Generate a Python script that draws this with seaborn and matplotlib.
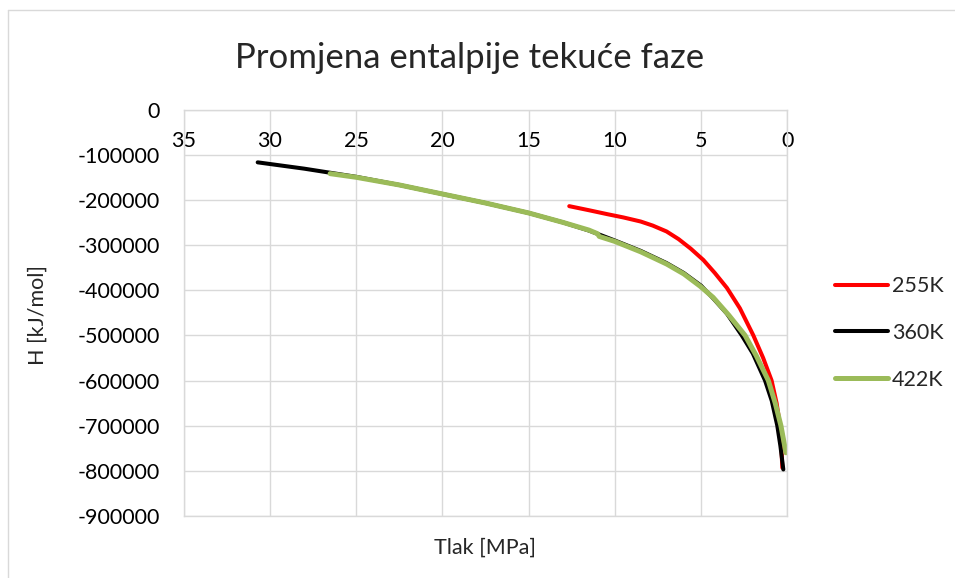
import matplotlib
matplotlib.use("Agg")
import matplotlib.pyplot as plt
import seaborn as sns
import pandas as pd
from matplotlib.lines import Line2D

# ---- data (pressure in MPa, enthalpy H) ----
p_255 = [12.64, 11.5, 10.4, 9.5, 8.5, 7.8, 7.0, 6.3, 5.6, 4.87, 4.2, 3.5, 2.75, 1.97,
         1.4, 0.91, 0.62, 0.42, 0.34, 0.29]
h_255 = [-214000, -223000, -232000, -239000, -248000, -257000, -270000, -287000, -308000,
         -333000, -362000, -395000, -440000, -500000, -550000, -600000, -650000, -700000,
         -750000, -793000]

p_360 = [30.7, 28.0, 26.5, 25.0, 22.5, 20.0, 17.5, 15.0, 13.0, 11.5, 10.0, 8.5, 7.0, 6.0,
         5.0, 4.3, 3.5, 2.64, 2.0, 1.29, 0.9, 0.58, 0.4, 0.23]
h_360 = [-117000, -131000, -140000, -149000, -167000, -187000, -207000, -229000, -250000,
         -268000, -290000, -313000, -340000, -362000, -390000, -418000, -452000, -500000,
         -540000, -600000, -645000, -700000, -745000, -797000]

p_422 = [26.5, 25.0, 22.5, 20.0, 17.5, 15.0, 13.0, 11.5, 11.0, 10.9, 10.0, 8.5, 7.0, 6.0,
         5.06, 4.3, 3.4, 2.45, 1.8, 1.1, 0.7, 0.37, 0.2, 0.08]
h_422 = [-142000, -150000, -167000, -187000, -207000, -229000, -250000, -267000, -275000,
         -281000, -292000, -315000, -342000, -364000, -391000, -416000, -455000, -500000,
         -545000, -600000, -650000, -700000, -735000, -760000]

series_names = ["255K", "360K", "422K"]
series_colors = ["#FF0000", "#000000", "#9BBB59"]
series_widths = [2.9, 2.9, 3.6]

x_ticks = [35, 30, 25, 20, 15, 10, 5, 0]
y_ticks = [0, -100000, -200000, -300000, -400000, -500000, -600000, -700000, -800000, -900000]

title = "Promjena entalpije tekuće faze"
x_label = "Tlak [MPa]"
y_label = "H [kJ/mol]"

# ---- styling ----
sns.set_style("white")
plt.rcParams['font.family'] = ['Lato', 'DejaVu Sans']
plt.rcParams['axes.unicode_minus'] = False

W, H = 955, 578
fig = plt.figure(figsize=(W / 100, H / 100), dpi=100)
ax = fig.add_axes([183.5 / W, 1 - 516 / H, (787.3 - 183.5) / W, (516 - 109.5) / H])

frames = [pd.DataFrame({"P": p, "H": h, "T": n})
          for p, h, n in zip([p_255, p_360, p_422], [h_255, h_360, h_422], series_names)]

for df, c, lw in zip(frames, series_colors, series_widths):
    sns.lineplot(data=df, x="P", y="H", sort=False, estimator=None, color=c,
                 linewidth=lw, ax=ax, solid_capstyle="round", solid_joinstyle="round",
                 legend=False)

ax.set_xlim(35, 0)
ax.set_ylim(-900000, 0)
ax.set_xticks(x_ticks)
ax.set_xticklabels([str(v) for v in x_ticks])
ax.set_yticks(y_ticks)
ax.set_yticklabels([str(v) for v in y_ticks])

grid_c = "#D9D9D9"
ax.grid(True, color=grid_c, linewidth=1.0)
ax.set_axisbelow(True)
for s in ax.spines.values():
    s.set_color(grid_c)
    s.set_linewidth(1.0)

tick_fs = 15.5
ax.tick_params(axis="x", bottom=False, top=False, labelbottom=False, labeltop=True,
               pad=-30, labelsize=tick_fs, labelcolor="#000000", length=0)
ax.tick_params(axis="y", left=False, pad=17, labelsize=tick_fs, labelcolor="#000000", length=0)

ax.set_xlabel("")
ax.set_ylabel("")
fig.text(485 / W, 1 - 548 / H, x_label, ha="center", va="center", fontsize=tick_fs)
fig.text(38 / W, 1 - 315 / H, y_label, ha="center", va="center", rotation=90, fontsize=tick_fs)
fig.text(470 / W, 1 - 68 / H, title, ha="center", va="baseline", fontsize=25)

handles = [Line2D([0], [0], color=c, lw=lw, solid_capstyle="round")
           for c, lw in zip(series_colors, series_widths)]
leg = fig.legend(handles, series_names, loc="center left",
                 bbox_to_anchor=(824 / W, 1 - 333 / H), frameon=False,
                 fontsize=tick_fs, handlelength=2.45, handletextpad=0.2,
                 labelspacing=1.25, borderpad=0)

# chart border
fig.add_artist(Line2D([7.5 / W, 7.5 / W], [0, 1 - 10 / H], color=grid_c, lw=1.0,
                      transform=fig.transFigure))
fig.add_artist(Line2D([7.5 / W, 1], [1 - 10 / H, 1 - 10 / H], color=grid_c, lw=1.0,
                      transform=fig.transFigure))

fig.savefig("out.png", dpi=100)
